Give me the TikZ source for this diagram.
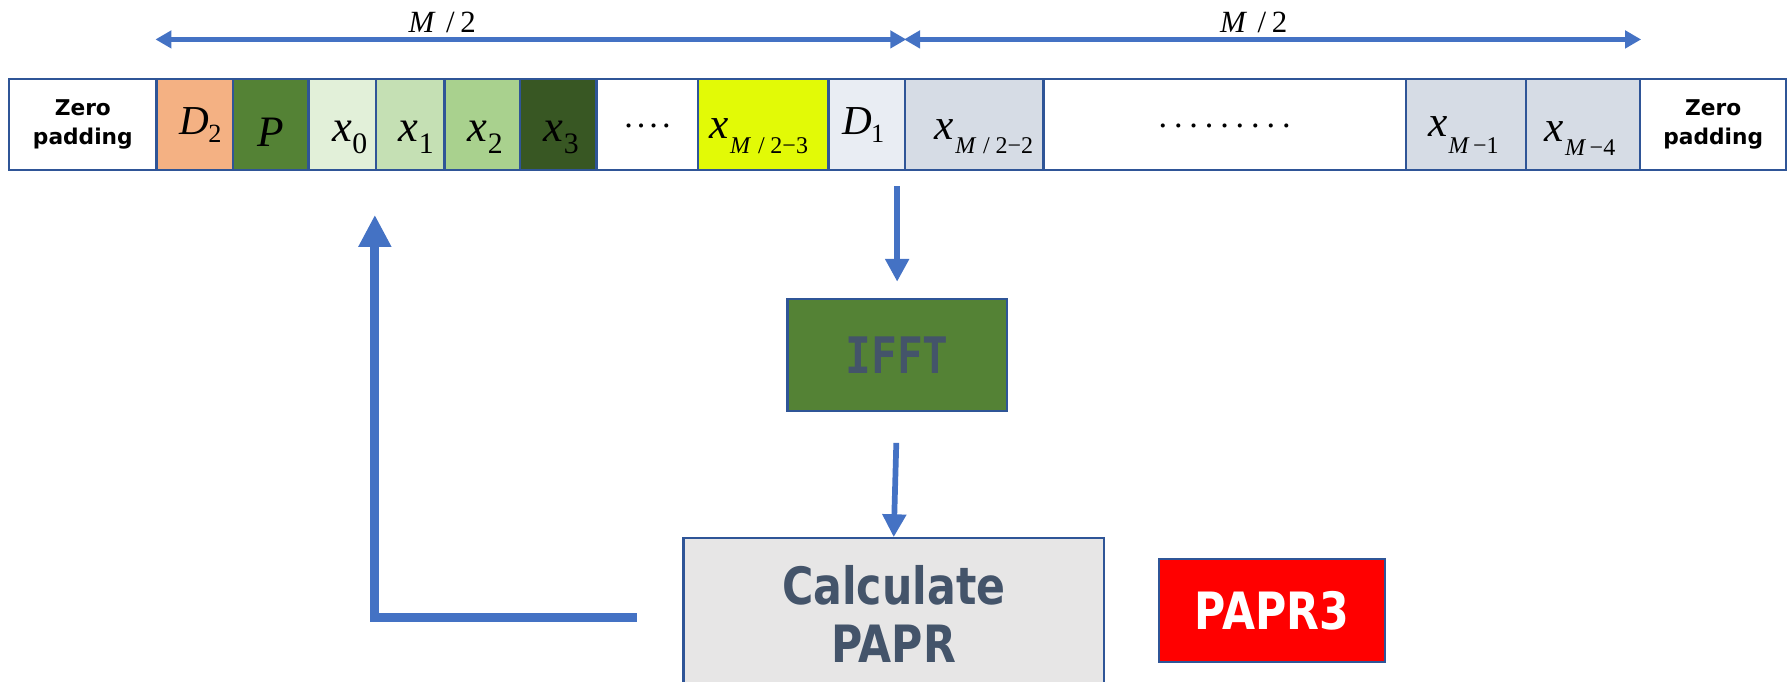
\documentclass[tikz,border=0pt]{standalone}
\usepackage{fontspec}
\setmainfont{Liberation Serif}
\newfontfamily\headfont[FakeStretch=0.83]{DejaVu Sans}
\newfontfamily\padfont{DejaVu Sans}
\newfontfamily\blockfont[FakeStretch=0.85]{DejaVu Sans Mono}
\usetikzlibrary{arrows.meta}

\definecolor{arrowblue}{HTML}{4472C4}
\definecolor{edgeblue}{HTML}{2F5597}
\definecolor{slate}{HTML}{44546A}
\definecolor{peach}{HTML}{F4B183}
\definecolor{leaf}{HTML}{548235}
\definecolor{mint}{HTML}{E2F0D9}
\definecolor{sage}{HTML}{C5E0B4}
\definecolor{fern}{HTML}{A9D18E}
\definecolor{forest}{HTML}{385723}
\definecolor{lime}{HTML}{E2FA06}
\definecolor{mist}{HTML}{E9EDF3}
\definecolor{steel}{HTML}{D6DCE5}
\definecolor{cloud}{HTML}{E7E6E6}

% x with a numeric subscript
\newcommand\cellx[1]{{\fontsize{39}{39}\selectfont\itshape x}\kern0.5pt\raisebox{-10pt}{\fontsize{26}{26}\selectfont #1}}
% x with an index subscript, lowered by #1
\newcommand\cellm[2]{{\fontsize{38}{38}\selectfont\itshape x}\kern1pt\raisebox{-#1}{\fontsize{21}{21}\selectfont #2}}
\newcommand\celld[1]{{\fontsize{36}{36}\selectfont\itshape D}\kern-1pt\raisebox{-7pt}{\fontsize{23}{23}\selectfont #1}}
\newcommand\halfM{{\fontsize{27}{27}\selectfont\textit{M}\hspace{9pt}/\hspace{5pt}2}}
\newcommand\idxhalf[1]{\textit{M}\hspace{6pt}/\hspace{5pt}2−#1}

\tikzset{
  cell/.style={draw=edgeblue, line width=2pt, minimum height=80pt, inner sep=0pt, text depth=0pt},
  padcell/.style={draw=edgeblue, line width=2pt, minimum height=80pt, inner sep=0pt, fill=white,
    align=center, font=\padfont\bfseries\fontsize{19}{25}\selectfont},
  span/.style={arrowblue, line width=3.8pt, {Triangle[length=14pt,width=15pt]}-{Triangle[length=14pt,width=15pt]}},
  flow/.style={arrowblue, line width=5pt, -{Triangle[length=20pt,width=20pt]}},
  back/.style={arrowblue, line width=8pt, line join=miter, -{Triangle[length=28pt,width=27pt]}},
  block/.style={draw=edgeblue, line width=2pt, inner sep=0pt, align=center},
}

\begin{document}
\begin{tikzpicture}[x=1pt, y=-1pt]
\useasboundingbox (0,0) rectangle (1568,596);
\clip (0,0) rectangle (1568,596);

% the frame of sub-carriers
\node[padcell, minimum width=129pt] (zpl) at (72.5,109) {Zero\\padding};
\node[cell, fill=peach, minimum width=67pt, text height=18pt] (d2) at (170.5,109) {\hspace{10pt}\celld{2}};
\node[cell, fill=leaf, minimum width=66pt, text height=39pt] (p) at (237,109) {{\fontsize{38}{38}\selectfont\itshape P}};
\node[cell, fill=mint, minimum width=59pt, text height=30pt] (x0) at (299.5,109) {\hspace{13pt}\cellx{0}};
\node[cell, fill=sage, minimum width=60pt, text height=30pt] (x1) at (359,109) {\hspace{10pt}\cellx{1}};
\node[cell, fill=fern, minimum width=66pt, text height=30pt] (x2) at (422,109) {\hspace{5pt}\cellx{2}};
\node[cell, fill=forest, minimum width=67pt, text height=30pt] (x3) at (488.5,109) {\hspace{5pt}\cellx{3}};
\node[cell, fill=white, minimum width=89pt, text height=6pt] (dotsA) at (566.5,109)
  {{\fontsize{30}{30}\selectfont .\kern3.5pt.\kern3.5pt.\kern3.5pt.}};
\node[cell, fill=lime, minimum width=114pt, text height=24pt] (xm23) at (668,109) {\hspace{-8pt}\cellm{13pt}{\idxhalf{3}}};
\node[cell, fill=mist, minimum width=67pt, text height=18pt] (d1) at (758.5,109) {\hspace{-6pt}\celld{1}};
\node[cell, fill=steel, minimum width=121pt, text height=27pt] (xm22) at (852.5,109) {\hspace{17pt}\cellm{12pt}{\idxhalf{2}}};
\node[cell, fill=white, minimum width=317pt, text height=6pt] (dotsB) at (1071.5,109)
  {{\fontsize{30}{30}\selectfont .\kern6pt.\kern6pt.\kern6pt.\kern6pt.\kern6pt.\kern6pt.\kern6pt.\kern6pt.}};
\node[cell, fill=steel, minimum width=105pt, text height=21pt] (xm1) at (1282.5,109) {\hspace{-4pt}\cellm{15pt}{\textit{M}\hspace{3pt}−1}};
\node[cell, fill=steel, minimum width=100pt, text height=30pt] (xm4) at (1385,109) {\hspace{-5pt}\cellm{12pt}{\textit{M}\hspace{3pt}−4}};
\node[padcell, minimum width=128pt] (zpr) at (1499,109) {Zero\\padding};

% half-length dimension arrows
\draw[span] ([yshift=33.5pt]d2.north west) -- ([yshift=33.5pt]d1.north east);
\draw[span] ([yshift=33.5pt]xm22.north west) -- ([yshift=33.5pt]xm4.north east);
\node[anchor=base] (halfL) at (387,28.3) {\halfM};
\node[anchor=base] (halfR) at (1097,28.3) {\halfM};

% processing blocks
\node[block, fill=leaf, minimum width=192pt, minimum height=98pt, text=slate,
      font=\blockfont\bfseries\fontsize{44}{44}\selectfont] (ifft) at (785,310.5) {IFFT};
\node[block, fill=cloud, minimum width=368pt, minimum height=132pt, anchor=north, text=slate,
      font=\headfont\bfseries\fontsize{45}{51}\selectfont] (calc) at (782,470) {Calculate\\PAPR};
\node[block, fill=red, minimum width=198pt, minimum height=90pt, text=white,
      font=\headfont\bfseries\fontsize{45}{45}\selectfont] (papr) at (1113,534) {PAPR3};

% signal flow
\draw[flow, shorten <=13pt, shorten >=14pt] (d1.south -| ifft.north) -- (ifft.north);
\draw[flow, shorten <=27pt] (ifft.south) -- (calc.north);

% feedback to the frame
\coordinate (backtip) at (328,188);
\draw[back] ([shift={(-40pt,-3pt)}]calc.west) -| (backtip);
\end{tikzpicture}
\end{document}
